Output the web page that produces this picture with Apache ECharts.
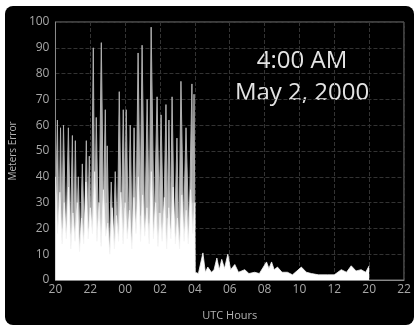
<!DOCTYPE html>
<html>
<head>
<meta charset="utf-8">
<script src="https://cdn.jsdelivr.net/npm/echarts@6/dist/echarts.min.js"></script>
<style>
  body { margin: 0; background: #fff; }
  .frame { position: absolute; left: 5px; top: 6px; width: 409px; height: 319px; background: #000; border-radius: 8px; }
  #chart { position: absolute; left: 0; top: 0; width: 416px; height: 326px; }
</style>
</head>
<body>
<div class="frame"></div>
<div id="chart"></div>
<script>
// x axis: hours counted from 20 UTC, labels every 2 h
const xTickLabels = ["20", "22", "00", "02", "04", "06", "08", "10", "12", "20", "22"];

// gray spikes (peaks with the dark gaps between them), 20 -> 04
const spikeHours = [0, 0.11, 0.2, 0.29, 0.37, 0.46, 0.6, 0.74, 0.86, 0.97,
  1.05, 1.14, 1.22, 1.31, 1.42, 1.54, 1.66, 1.77, 1.86, 1.94,
  2.05, 2.17, 2.25, 2.34, 2.48, 2.63, 2.75, 2.86, 2.92, 2.97,
  3.08, 3.2, 3.32, 3.43, 3.55, 3.66, 3.78, 3.89, 3.98, 4.06,
  4.18, 4.29, 4.4, 4.51, 4.62, 4.74, 4.86, 4.97, 5.12, 5.26,
  5.38, 5.49, 5.66, 5.83, 5.95, 6.06, 6.2, 6.34, 6.42, 6.51,
  6.6, 6.69, 6.83, 6.97, 7.08, 7.2, 7.35, 7.49, 7.66, 7.83,
  7.89, 7.95, 8.0];
const spikeErr = [22, 62, 16, 59, 20, 60, 14, 59, 18, 56,
  12, 54, 20, 40, 12, 45, 15, 54, 20, 48,
  14, 90, 20, 63, 12, 92, 25, 66, 30, 52,
  10, 38, 12, 42, 15, 73, 20, 66, 28, 66,
  18, 60, 14, 59, 20, 88, 25, 91, 16, 70,
  22, 98, 18, 71, 26, 64, 16, 68, 24, 62,
  20, 71, 15, 55, 12, 77, 20, 59, 16, 76,
  30, 72, 20];

// white bulk under the spikes, 20 -> 04
const denseHours = [0, 0.12, 0.25, 0.38, 0.5, 0.62, 0.75, 0.88, 1, 1.12,
  1.25, 1.38, 1.5, 1.62, 1.75, 1.88, 2, 2.12, 2.25, 2.38,
  2.5, 2.62, 2.75, 2.88, 3, 3.12, 3.25, 3.38, 3.5, 3.62,
  3.75, 3.88, 4, 4.12, 4.25, 4.38, 4.5, 4.62, 4.75, 4.88,
  5, 5.12, 5.25, 5.38, 5.5, 5.62, 5.75, 5.88, 6, 6.12,
  6.25, 6.38, 6.5, 6.62, 6.75, 6.88, 7, 7.12, 7.25, 7.38,
  7.5, 7.62, 7.75, 7.88, 8];
const denseErr = [40, 18, 34, 14, 30, 16, 36, 12, 26, 15,
  30, 11, 24, 14, 38, 16, 28, 18, 42, 15,
  30, 13, 35, 17, 22, 10, 28, 12, 25, 15,
  34, 14, 30, 16, 27, 12, 32, 18, 40, 15,
  33, 17, 28, 14, 42, 16, 30, 13, 26, 15,
  32, 12, 28, 16, 36, 14, 24, 12, 33, 15,
  27, 14, 35, 18, 30];

// after 04 the error stays low
const lowHours = [8.02, 8.2, 8.46, 8.6, 8.74, 8.95, 9.1, 9.26, 9.4, 9.54,
  9.7, 9.89, 10.05, 10.29, 10.5, 10.86, 11.1, 11.43, 11.7, 12.11,
  12.25, 12.4, 12.55, 12.74, 13.0, 13.31, 13.6, 14.11, 14.4, 14.69,
  15.1, 15.6, 16.0, 16.4, 16.7, 16.97, 17.25, 17.54, 17.8, 18.0];
const lowErr = [3, 2.5, 10.5, 3, 5, 3, 4, 8.5, 4, 8,
  4.5, 10, 4, 6, 3, 4, 2.5, 3, 2.5, 7,
  4.5, 7, 4, 5, 3, 3, 2, 5, 3, 2.5,
  2, 2, 2, 4, 3, 5.5, 3.5, 4, 3, 5.5];

const spikeData = spikeHours.map((h, i) => [h, spikeErr[i]]);
const whiteData = denseHours.map((h, i) => [h, denseErr[i]])
  .concat(lowHours.map((h, i) => [h, lowErr[i]]));

const chart = echarts.init(document.getElementById("chart"));
const labelColor = "#a8a8a8";

chart.setOption({
  animation: false,
  backgroundColor: "transparent",
  grid: {
    left: 53, right: 12, top: 22, bottom: 38,
    show: true, borderColor: "#7a7a7a", borderWidth: 1
  },
  graphic: [
    {
      type: "text",
      style: {
        x: 302, y: 61, text: "4:00 AM", textAlign: "center", textVerticalAlign: "middle",
        fill: "#e4e4e4", font: "24px 'Open Sans'"
      }
    },
    {
      type: "text",
      style: {
        x: 302, y: 93, text: "May 2, 2000", textAlign: "center", textVerticalAlign: "middle",
        fill: "#e4e4e4", font: "24px 'Open Sans'"
      }
    }
  ],
  xAxis: {
    type: "value",
    min: 0, max: 20, interval: 2,
    name: "UTC Hours",
    nameLocation: "middle",
    nameGap: 30,
    nameTextStyle: { color: "#b4b4b4", fontSize: 11, fontFamily: "Open Sans" },
    axisLine: { lineStyle: { color: "#8a8a8a" } },
    axisTick: { show: false },
    axisLabel: {
      color: labelColor, fontSize: 12, fontFamily: "Open Sans", margin: 4,
      formatter: (v) => xTickLabels[Math.round(v / 2)]
    },
    splitLine: { show: true, lineStyle: { color: "#333", type: "dashed" } }
  },
  yAxis: {
    type: "value",
    min: 0, max: 100, interval: 10,
    name: "Meters Error",
    nameLocation: "middle",
    nameGap: 23,
    nameTextStyle: { color: "#b4b4b4", fontSize: 10, fontFamily: "Open Sans" },
    axisLine: { show: true, lineStyle: { color: "#8a8a8a" } },
    axisTick: { show: false },
    axisLabel: { color: labelColor, fontSize: 12, fontFamily: "Open Sans", margin: 6 },
    splitLine: { show: true, lineStyle: { color: "#333", type: "dashed" } }
  },
  series: [
    {
      name: "spikes",
      type: "line",
      data: spikeData,
      symbol: "none",
      lineStyle: { color: "#b0b0b0", width: 1 },
      areaStyle: {
        opacity: 1,
        color: new echarts.graphic.LinearGradient(0, 0, 0, 1, [
          { offset: 0, color: "#8c8c8c" },
          { offset: 1, color: "#dcdcdc" }
        ])
      },
      z: 2
    },
    {
      name: "bulk",
      type: "line",
      data: whiteData,
      symbol: "none",
      lineStyle: { color: "#f4f4f4", width: 0.8 },
      areaStyle: { color: "#ffffff", opacity: 1 },
      z: 3
    }
  ]
});
</script>
</body>
</html>
